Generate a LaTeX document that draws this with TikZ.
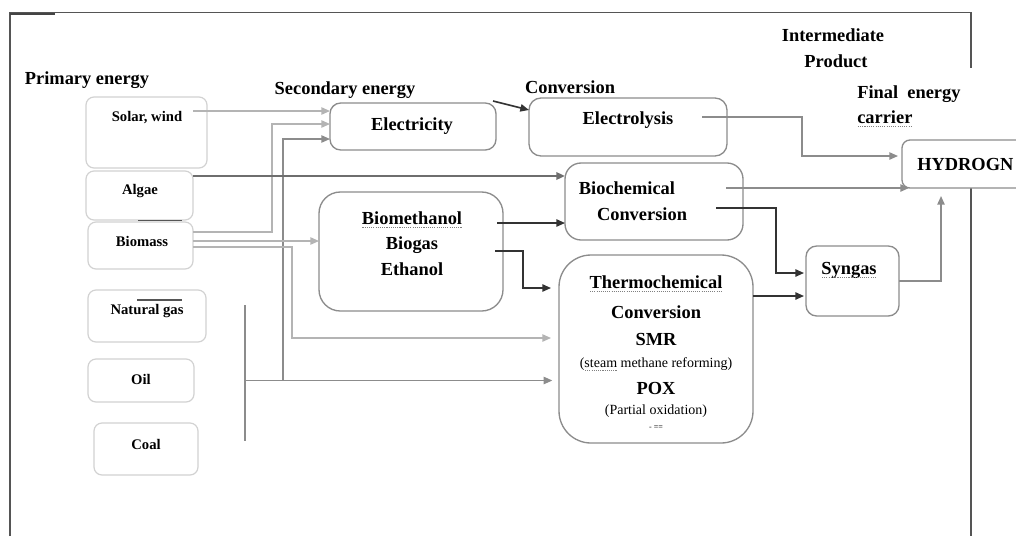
\documentclass[tikz,border=0pt]{standalone}
\usepackage{fontspec}
\setmainfont{Liberation Serif}
\usetikzlibrary{calc,fit,arrows.meta}
\definecolor{framec}{HTML}{555555}
\definecolor{pboxc}{HTML}{D2D2D2}
\definecolor{mboxc}{HTML}{8C8C8C}
\definecolor{lightc}{HTML}{B4B4B4}
\definecolor{midc}{HTML}{8C8C8C}
\definecolor{algc}{HTML}{6E6E6E}
\definecolor{darkc}{HTML}{333333}
\newsavebox\sqbox
\newcommand{\sqline}[1]{\sbox\sqbox{#1}\rlap{\usebox\sqbox}\raisebox{-2.8pt}{\textcolor{gray}{\hbox to \wd\sqbox{\xleaders\hbox to 1.6pt{\hss\rule{0.8pt}{0.6pt}\hss}\hfill}}}}
\tikzset{
  pbox/.style={draw=pboxc, line width=0.9pt, rounded corners=6pt, inner sep=0pt, outer sep=0pt},
  mbox/.style={draw=mboxc, line width=1pt, rounded corners=#1, inner sep=0pt, outer sep=0pt},
  hd/.style={font=\fontsize{13.8}{16}\selectfont\bfseries, inner sep=0pt},
  ptx/.style={font=\fontsize{11}{13}\selectfont\bfseries, inner sep=0pt},
  sml/.style={font=\fontsize{10.5}{12}\selectfont, inner sep=0pt},
  arr/.style={-{Triangle[length=6.5pt,width=5.5pt]}},
  lgc/.style={draw=lightc, line width=1.1pt},
  mgc/.style={draw=midc, line width=1.1pt},
  agc/.style={draw=algc, line width=1.6pt},
  dkc/.style={draw=darkc, line width=1.2pt},
}
\begin{document}
\begin{tikzpicture}[x=0.75pt,y=-0.75pt]
\clip (0,0) rectangle (1016,536);
\fill[white] (0,0) rectangle (1016,536);
% frame
\draw[framec, line width=1.1pt] (10,536) -- (10,12.5) -- (971,12.5) -- (971,68);
\draw[framec, line width=1.1pt] (971,188) -- (971,536);
\draw[framec!80!black, line width=1.2pt] (10,14) -- (55,14);

% primary boxes
\node[pbox, fit={(86,97) (207,168)}] (solar) {};
\node[pbox, fit={(86,171) (193,220)}] (algae) {};
\node[pbox, fit={(88,222) (193,269)}] (biomass) {};
\node[pbox, fit={(88,290) (206,342)}] (ngas) {};
\node[pbox, fit={(88,359) (194,402)}] (oil) {};
\node[pbox, fit={(94,423) (198,475)}] (coal) {};

% other boxes
\node[mbox=8pt, fit={(330,103) (496,150)}] (elec) {};
\node[mbox=9pt, fit={(529,98) (727,156)}] (ely) {};
\node[mbox=12pt, fit={(565,163) (743,240)}] (bioc) {};
\node[mbox=16pt, fit={(319,192) (503,311)}] (biom) {};
\node[mbox=24pt, fit={(559,255) (753,443)}] (thermo) {};
\node[mbox=8pt, fit={(806,246) (899,316)}] (syngas) {};
\node[mbox=6pt, fill=white, fit={(902,140) (1030,188)}] (hyd) {};

% headings
\node[hd] (lprim) at (87,80) {Primary energy};
\node[hd] (lsec) at (345,90) {Secondary energy};
\node[hd] (lconv) at (570,87) {Conversion};
\node[hd] (linter1) at (833,35) {Intermediate};
\node[hd] (linter2) at (836,61) {Product};
\node[hd, anchor=north west, align=left] (lfinal) at (857,85) {Final\ \ energy\\[3pt]\sqline{carrier}};

% primary texts
\node[ptx] (tsolar) at (147,118) {Solar, wind};
\node[ptx] (talgae) at (140,191) {Algae};
\node[ptx] (tbiomass) at (142,241) {Biomass};
\node[ptx] (tngas) at (147,311) {Natural gas};
\node[ptx] (toil) at (141,379) {Oil};
\node[ptx] (tcoal) at (146,444) {Coal};

% box texts
\node[hd] (telec) at (412,126) {Electricity};
\node[hd] (tely) at (628,120) {Electrolysis};
\node[hd] (tbioc1) at (627,188) {Biochemical};
\node[hd] (tbioc2) at (642,214) {Conversion};
\node[hd] (tbiom1) at (412,220) {\sqline{Biomethanol}};
\node[hd] (tbiom2) at (412,245) {Biogas};
\node[hd] (tbiom3) at (412,269) {Ethanol};
\node[hd] (tth1) at (656,284) {\sqline{Thermochemical}};
\node[hd] (tth2) at (656,312) {Conversion};
\node[hd] (tth3) at (656,339) {SMR};
\node[sml] (tth4) at (656,364) {(\sqline{steam} methane reforming)};
\node[hd] (tth5) at (656,388) {POX};
\node[sml] (tth6) at (656,411) {(Partial oxidation)};
\node[font=\fontsize{6}{7}\selectfont\bfseries, inner sep=0pt, text=darkc] (tth7) at (656,428) {-\ ==};
\node[hd] (tsyn) at (849,270) {\sqline{Syngas}};
\node[hd, anchor=west] (thyd) at (917,164) {HYDROGN};

% small marks
\draw[framec, line width=1pt] ($(algae.south west)+(52,0.5)$) -- ($(algae.south west)+(96,0.5)$);
\draw[framec, line width=0.8pt] ($(ngas.north west)+(49,10)$) -- ($(ngas.north west)+(94,10)$);

% connectors
\coordinate (s1) at ($(solar.north east)+(-14,14)$);
\draw[lgc,arr] (s1) -- (s1 -| elec.west);

\coordinate (s2) at ($(biomass.east)+(0,-13.5)$);
\coordinate (c2) at ($(elec.west)+(-58,-2.5)$);
\draw[lgc,arr] (s2) -| (c2) -- (c2 -| elec.west);

\coordinate (bt) at ($(ngas.east)+(39,-11)$);
\coordinate (bb) at ($(coal.east)+(47,-8)$);
\draw[mgc] (bt) -- (bb);
\draw[mgc,arr,shorten >=5pt] (bt |- oil.east) -- (thermo.west |- oil.east);
\coordinate (c3) at ($(elec.west)+(-47,12.5)$);
\draw[mgc,arr] (c3 |- oil.east) -- (c3) -- (c3 -| elec.west);

\coordinate (s4) at ($(algae.east)+(0,-19.5)$);
\draw[agc,arr] (s4) -- (s4 -| bioc.west);

\coordinate (s5) at ($(biomass.east)+(0,-4.5)$);
\draw[lgc,arr] (s5) -- (s5 -| biom.west);

\coordinate (s6) at ($(biomass.east)+(0,1.5)$);
\coordinate (c6) at ($(thermo.west)+(-267,-11)$);
\draw[lgc,arr,shorten >=6pt] (s6) -| (c6) -- (c6 -| thermo.west);

\coordinate (s8) at ($(elec.north east)+(-3,-2)$);
\draw[dkc,arr] (s8) -- ($(ely.west)+(0,-17)$);

\coordinate (s9) at ($(ely.east)+(-25,-10)$);
\coordinate (c9) at ($(hyd.west)+(-100,-8)$);
\draw[mgc,arr,shorten >=3pt] (s9) -| (c9) -- (c9 -| hyd.west);

\coordinate (s10) at ($(bioc.east)+(-17,-13.5)$);
\draw[mgc,arr] (s10) -- ($(hyd.south west)+(7,0)$);

\coordinate (s11) at ($(bioc.east)+(-27,6.5)$);
\coordinate (c11) at ($(syngas.west)+(-30,-8)$);
\draw[dkc,arr,shorten >=1.5pt] (s11) -| (c11) -- (c11 -| syngas.west);

\coordinate (s12) at ($(thermo.east)+(0,-53)$);
\draw[dkc,arr,shorten >=1.5pt] (s12) -- (s12 -| syngas.west);

\coordinate (c13) at ($(hyd.south west)+(39,0)$);
\draw[mgc,arr,shorten >=6pt] (syngas.east) -| (c13);

\coordinate (s14) at ($(biom.east)+(-6,-28.5)$);
\draw[dkc,arr] (s14) -- (s14 -| bioc.west);

\coordinate (s15) at ($(biom.east)+(-8,-0.5)$);
\coordinate (c15) at ($(thermo.west)+(-36,-61)$);
\draw[dkc,arr,shorten >=6pt] (s15) -| (c15) -- (c15 -| thermo.west);
\end{tikzpicture}
\end{document}
